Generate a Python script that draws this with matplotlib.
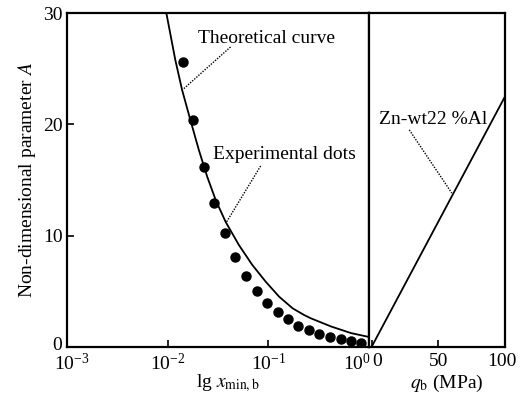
import matplotlib
matplotlib.use('Agg')
from matplotlib import pyplot as plt
from matplotlib.transforms import ScaledTranslation

plt.rcParams['font.family'] = 'Liberation Serif'
plt.rcParams['mathtext.fontset'] = 'stix'
plt.rcParams['font.size'] = 14

# experimental dots (x_min,b , A)
dot_x = [0.0142, 0.0179, 0.0228, 0.0288, 0.0367, 0.0467, 0.0594, 0.0766, 0.0961,
         0.124, 0.156, 0.196, 0.252, 0.318, 0.408, 0.526, 0.662, 0.832]
dot_a = [25.6, 20.4, 16.2, 12.9, 10.2, 8.1, 6.4, 5.0, 3.95,
         3.14, 2.5, 1.9, 1.53, 1.17, 0.9, 0.72, 0.54, 0.36]

# theoretical curve
curve_x = [0.0097, 0.0119, 0.0139, 0.0168, 0.0204, 0.0247, 0.0300, 0.0376, 0.0510,
           0.0693, 0.0941, 0.128, 0.174, 0.227, 0.264, 0.418, 0.662, 1.0]
curve_a = [30.0, 25.8, 23.1, 20.4, 17.7, 15.3, 13.2, 11.25, 9.16,
           7.37, 5.87, 4.52, 3.48, 2.87, 2.58, 1.85, 1.25, 0.9]

# Zn-wt22%Al line
q_b = [0, 100]
q_a = [0, 22.5]

W, H = 520, 411
fig = plt.figure(figsize=(W / 100, H / 100), dpi=100)

ax = fig.add_axes([67 / W, 1 - 347 / H, (369 - 67) / W, (347 - 13) / H])
ax2 = fig.add_axes([369 / W, 1 - 347 / H, (505 - 369) / W, (347 - 13) / H])

ax.plot(curve_x, curve_a, color='black', lw=1.3)
ax.plot(dot_x, dot_a, 'o', color='black', ms=6.5)
ax.set_xscale('log')
ax.set_xlim(1e-3, 1.0)
ax.set_ylim(0, 30)
ax.set_xticks([1e-3, 1e-2, 1e-1, 1e0])
ax.minorticks_off()
ax.set_yticks([0, 10, 20, 30])
ax.tick_params(direction='in', length=5, width=1.2, top=False, right=False)
ax.tick_params(axis='x', pad=4)
ax.tick_params(axis='y', pad=3)
ax.set_ylabel('Non-dimensional parameter $A$', labelpad=4)

ax.text(0.0202, 27.75, 'Theoretical curve', ha='left', va='center')
ax.plot([0.0421, 0.01432], [26.95, 23.17], color='black', ls=(0, (1, 1)), lw=1)
ax.text(0.0279, 17.25, 'Experimental dots', ha='left', va='center')
ax.plot([0.0839, 0.03844], [16.26, 11.23], color='black', ls=(0, (1, 1)), lw=1)

ax2.plot(q_b, q_a, color='black', lw=1.3)
ax2.set_xlim(-1.9, 100)
ax2.set_ylim(0, 30)
ax2.set_xticks([0, 50, 100])
ax2.set_yticks([])
ax2.tick_params(direction='in', length=5, width=1.2, pad=4)
ax2.text(5.8, 20.4, 'Zn-wt22 %Al', ha='left', va='center')
ax2.plot([28.3, 60.1], [19.5, 13.83], color='black', ls=(0, (1, 1)), lw=1)

for a in (ax, ax2):
    for s in a.spines.values():
        s.set_linewidth(1.6)

# nudge crowded tick labels at the panel join
def nudge(lbl, dx, dy=0):
    lbl.set_transform(lbl.get_transform() + ScaledTranslation(dx / 100, dy / 100, fig.dpi_scale_trans))

xl = ax.get_xticklabels()
nudge(xl[0], 5)
xl[-1].set_horizontalalignment('right')
nudge(xl[-1], 2)
xl2 = ax2.get_xticklabels()
nudge(xl2[0], 6)
nudge(xl2[-1], -3)
yl = ax.get_yticklabels()
nudge(yl[0], -1, 4)

fig.text(228 / W, 1 - 383 / H, 'lg $x_{\\mathrm{min,b}}$', ha='center', va='center')
fig.text(447 / W, 1 - 383 / H, '$q_{\\mathrm{b}}$ (MPa)', ha='center', va='center')

fig.savefig('out.png', dpi=100)
